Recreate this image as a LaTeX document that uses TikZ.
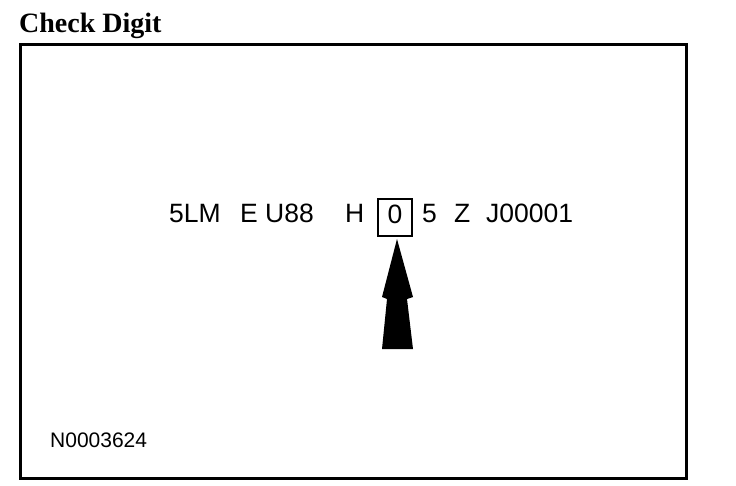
\documentclass[tikz,border=0pt]{standalone}
\usepackage{fontspec}
\setmainfont{Liberation Serif}
\setsansfont{Liberation Sans}
\usetikzlibrary{positioning,calc}
\tikzset{
  panel/.style={draw=black, line width=3pt},
  headline/.style={font=\bfseries\fontsize{28}{32}\selectfont, inner sep=0pt, anchor=base west},
  vin/.style={font=\sffamily\fontsize{26.5}{30}\selectfont, inner sep=0pt, anchor=base west},
  digitbox/.style={vin, draw=black, line width=2pt, anchor=center,
    minimum width=34pt, minimum height=37pt, text depth=6pt},
  refno/.style={font=\sffamily\fontsize{21}{24}\selectfont, inner sep=0pt, anchor=base west},
  blockarrow/.style={fill=black},
}

\begin{document}
\begin{tikzpicture}[x=1pt,y=-1pt]
\useasboundingbox (0,0) rectangle (736,486);
% title and outer frame
\node[headline] (title) at (19,33) {Check Digit};
\draw[panel] (20,45) rectangle (686,478);
% the number, token by token
\node[vin] (wmi) at (169,223) {5LM};
\node[vin] (line) at (240,223) {E};
\node[vin] (body) at (265,223) {U88};
\node[vin] (engine) at (345,223) {H};
\node[digitbox] (digit) at (395,217.5) {0};
\node[vin] (year) at (422,223) {5};
\node[vin] (plant) at (454,223) {Z};
\node[vin] (serial) at (486,223) {J00001};
% pointer up to the check digit
\coordinate (tip) at ([xshift=2pt,yshift=-2pt]digit.south);
\fill[blockarrow] (tip) -- ++(16,58) -- ++(-6,2) -- ++(6,50) -- ++(-31,0)
  -- ++(5,-50) -- ++(-5,-2) -- cycle;
% figure number
\node[refno] (figno) at (50,447) {N0003624};
\end{tikzpicture}
\end{document}
